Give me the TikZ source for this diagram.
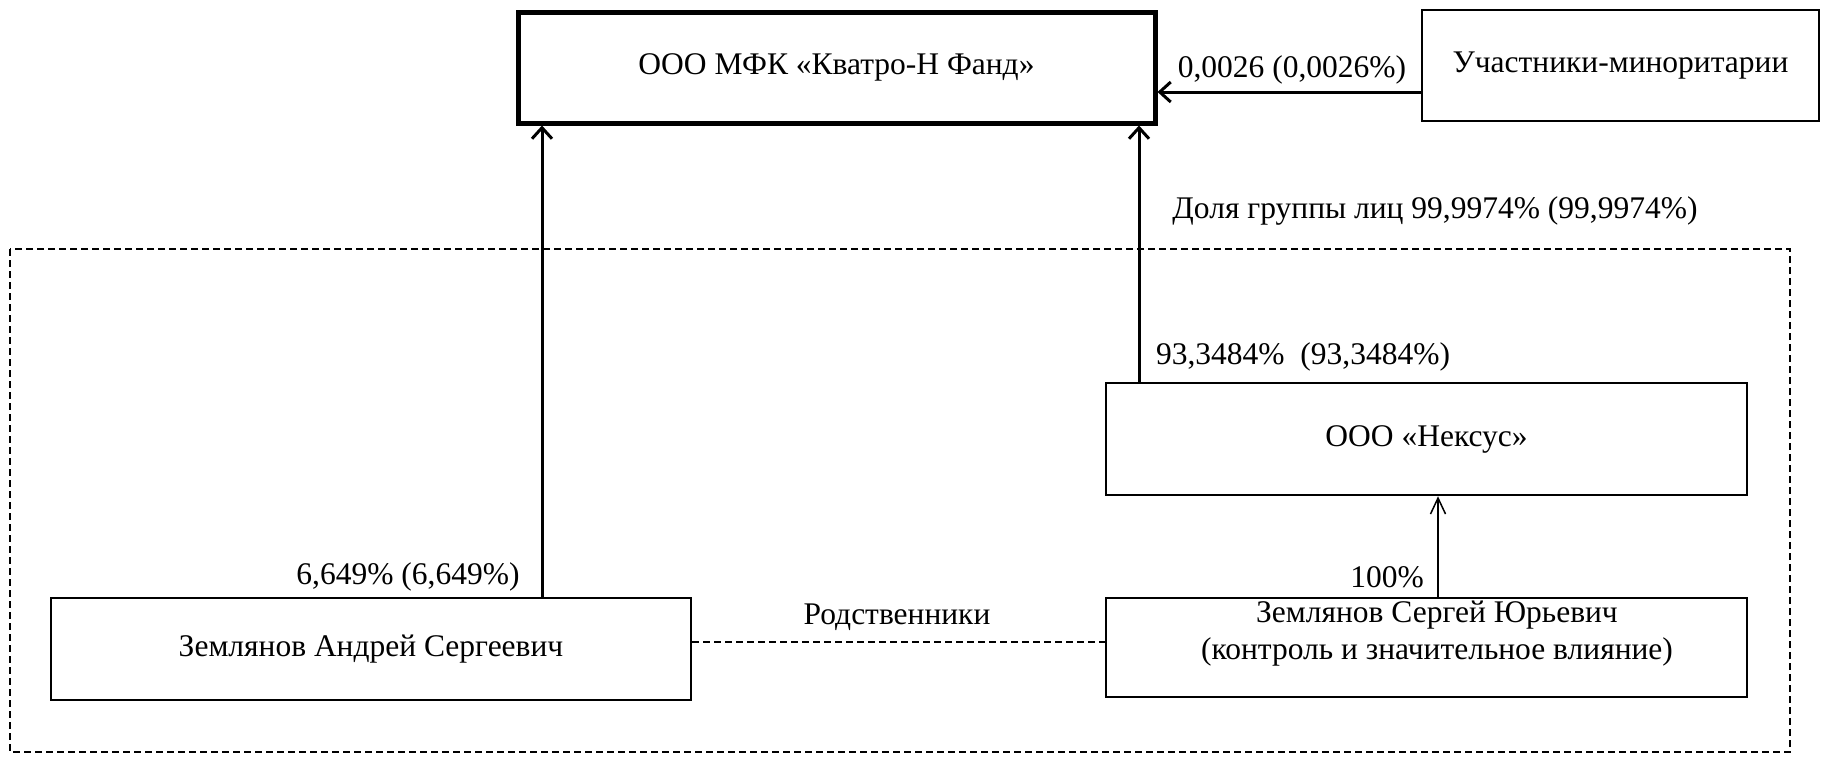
\documentclass[tikz,border=0pt]{standalone}
\usepackage{fontspec}
\setmainfont{Liberation Serif}
\usetikzlibrary{arrows.meta}
\begin{document}
\begin{tikzpicture}[x=1pt,y=-1pt,
  every node/.style={font=\fontsize{31.5}{37}\selectfont, inner sep=0pt},
  box/.style={draw, line width=2.5pt, rectangle, anchor=center},
  mainbox/.style={draw, line width=5pt, rectangle, anchor=center},
  own/.style={line width=3pt, -{Straight Barb[length=11pt,width=20pt,line width=3pt]}},
  ownthin/.style={line width=1.5pt, -{Straight Barb[length=16pt,width=15pt,line width=1.5pt]}},
  rel/.style={line width=2pt, dash pattern=on 7pt off 4pt},
  lbl/.style={anchor=center}]
\useasboundingbox (0,0) rectangle (1822,756);
\fill[white] (0,0) rectangle (1822,756);
% group frame
\draw[rel] (10,249) rectangle (1790,752);
% boxes
\node[mainbox, minimum width=637pt, minimum height=111pt] (main) at (836.5,67.5) {ООО МФК «Кватро-Н Фанд»};
\node[box, minimum width=397pt, minimum height=111pt] (minor) at (1620.5,65.5) {Участники-миноритарии};
\node[box, minimum width=641pt, minimum height=112pt] (nexus) at (1426.5,439) {ООО «Нексус»};
\node[box, minimum width=640pt, minimum height=102pt] (andrey) at (371,649) {Землянов Андрей Сергеевич};
\node[box, minimum width=641pt, minimum height=99pt] (sergey) at (1426.5,647.5) {};
\node[lbl, align=center] (sergeytext) at (1437,634) {Землянов Сергей Юрьевич\\(контроль и значительное влияние)};
% helper coordinates
\coordinate (ya) at (0,92);
\coordinate (xa) at (542,0);
\coordinate (xn) at (1139,0);
\coordinate (xs) at (1438,0);
\coordinate (yr) at (0,642);
% connectors
\draw[own] (minor.west |- ya) -- (main.east |- ya);
\draw[own] (andrey.north -| xa) -- (main.south -| xa);
\draw[own] (nexus.north -| xn) -- (main.south -| xn);
\draw[ownthin] (sergey.north -| xs) -- (nexus.south -| xs);
\draw[rel] (andrey.east |- yr) -- (sergey.west |- yr);
% labels
\node[lbl] (l1) at (1292,70) {0,0026 (0,0026\%)};
\node[lbl] (l2) at (1435,211) {Доля группы лиц 99,9974\% (99,9974\%)};
\node[lbl] (l3) at (1303,357) {93,3484\%\ \ (93,3484\%)};
\node[lbl] (l4) at (408,577) {6,649\% (6,649\%)};
\node[lbl] (l5) at (1387,577) {100\%};
\node[lbl] (l6) at (897,617) {Родственники};
\end{tikzpicture}
\end{document}
